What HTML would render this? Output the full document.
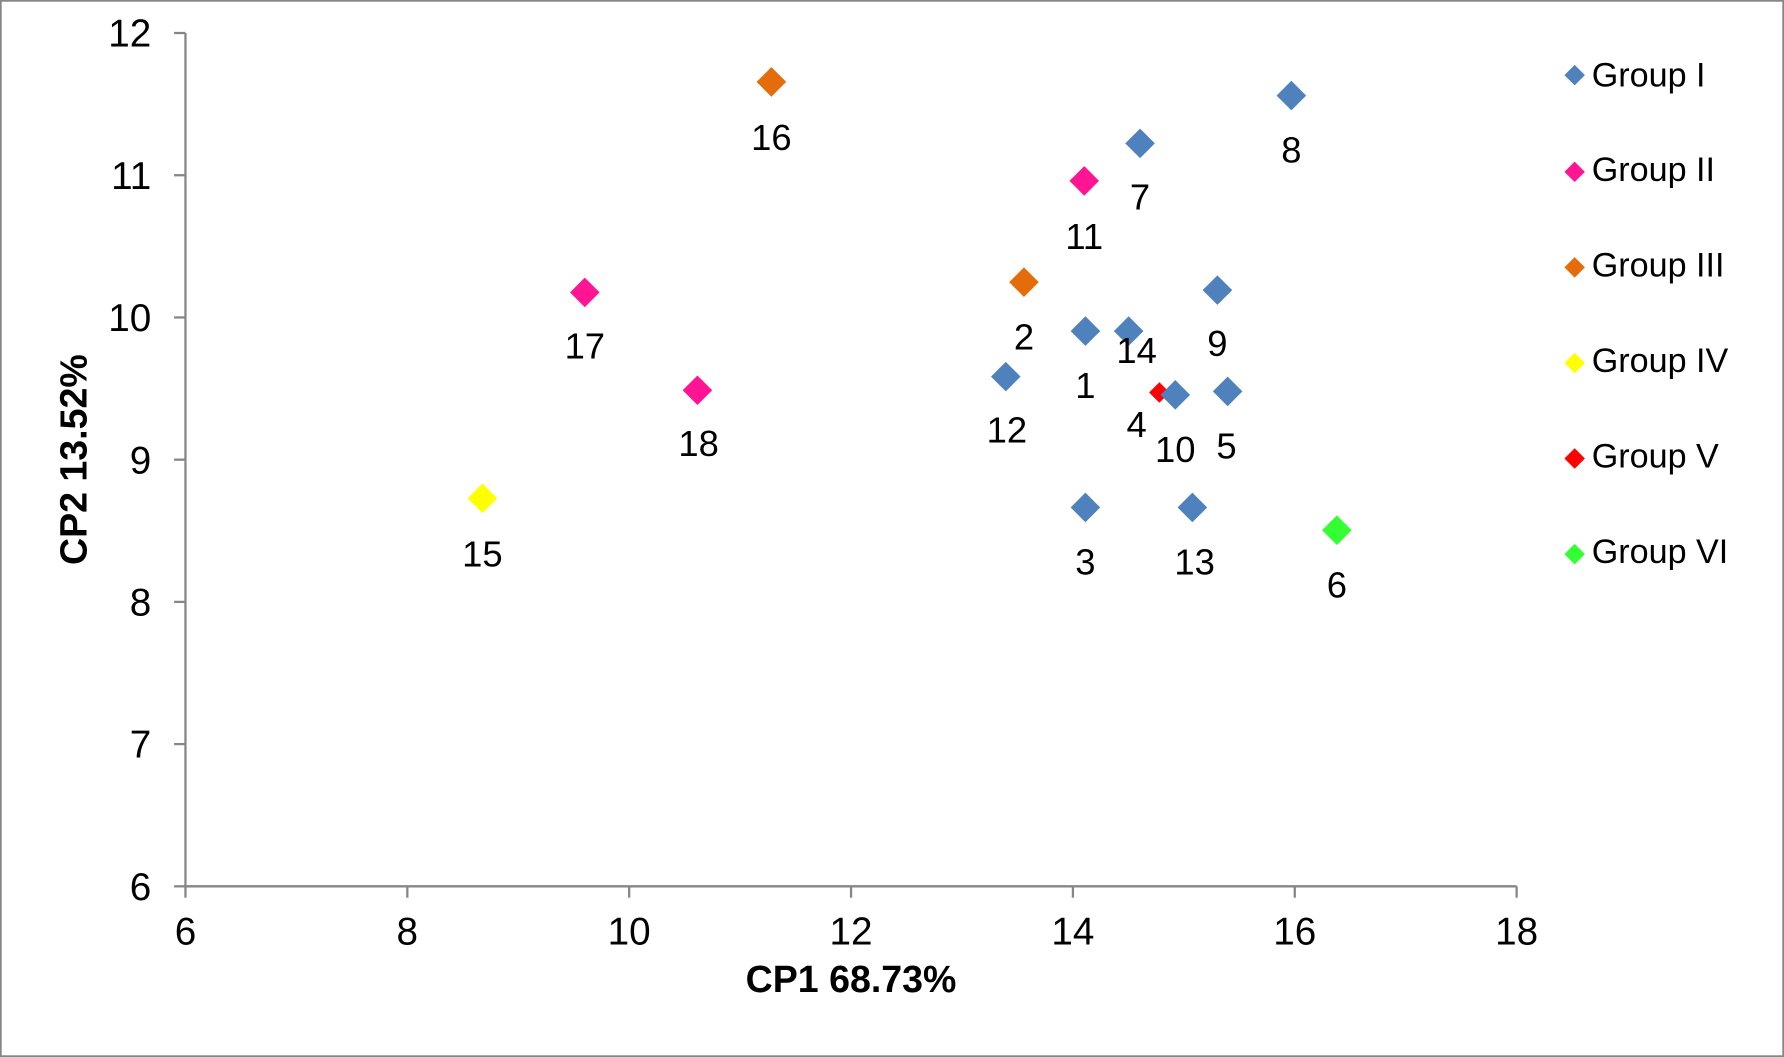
<!DOCTYPE html>
<html><head><meta charset="utf-8"><style>
html,body{margin:0;padding:0;background:#fff;}
svg{display:block;}
text{font-family:"Liberation Sans",Arial,sans-serif;fill:#000;}
</style></head><body>
<svg width="1784" height="1057" viewBox="0 0 1568 929" xmlns="http://www.w3.org/2000/svg">
<rect x="0.75" y="0.75" width="1566.5" height="927.5" fill="#fff" stroke="#868686" stroke-width="1.5"/>
<g stroke="#868686" stroke-width="2" fill="none">
<line x1="163" y1="29" x2="163" y2="780"/>
<line x1="162" y1="779" x2="1333" y2="779"/>
<line x1="153" y1="29" x2="163" y2="29"/>
<line x1="153" y1="154" x2="163" y2="154"/>
<line x1="153" y1="279" x2="163" y2="279"/>
<line x1="153" y1="404" x2="163" y2="404"/>
<line x1="153" y1="529" x2="163" y2="529"/>
<line x1="153" y1="654" x2="163" y2="654"/>
<line x1="153" y1="779" x2="163" y2="779"/>
<line x1="163" y1="779" x2="163" y2="789"/>
<line x1="358" y1="779" x2="358" y2="789"/>
<line x1="553" y1="779" x2="553" y2="789"/>
<line x1="748" y1="779" x2="748" y2="789"/>
<line x1="943" y1="779" x2="943" y2="789"/>
<line x1="1138" y1="779" x2="1138" y2="789"/>
<line x1="1333" y1="779" x2="1333" y2="789"/>
</g>
<g font-size="34" text-anchor="end">
<text x="133" y="41">12</text><text x="133" y="166">11</text><text x="133" y="291">10</text>
<text x="133" y="416">9</text><text x="133" y="541">8</text><text x="133" y="666">7</text><text x="133" y="791">6</text>
</g>
<g font-size="34" text-anchor="middle">
<text x="163" y="830">6</text><text x="358" y="830">8</text><text x="553" y="830">10</text>
<text x="748" y="830">12</text><text x="943" y="830">14</text><text x="1138" y="830">16</text><text x="1333" y="830">18</text>
</g>
<text x="748" y="872" font-size="33" font-weight="bold" text-anchor="middle">CP1 68.73%</text>
<text transform="translate(76,404) rotate(-90)" font-size="33" font-weight="bold" text-anchor="middle">CP2 13.52%</text>
<defs>
<path id="d" d="M0,-13 L13,0 L0,13 L-13,0Z"/>
<path id="s" d="M0,-9 L9,0 L0,9 L-9,0Z"/>
</defs>
<g>
<use href="#d" x="678" y="72" fill="#E46C0A"/>
<use href="#d" x="900" y="248" fill="#E46C0A"/>
<use href="#d" x="1135" y="84" fill="#4F81BD"/>
<use href="#d" x="1002" y="126" fill="#4F81BD"/>
<use href="#d" x="1070" y="255" fill="#4F81BD"/>
<use href="#d" x="954" y="291" fill="#4F81BD"/>
<use href="#d" x="992" y="291" fill="#4F81BD"/>
<use href="#d" x="884" y="331" fill="#4F81BD"/>
<use href="#s" x="1019" y="345" fill="#FF0000"/>
<use href="#d" x="1033" y="347" fill="#4F81BD"/>
<use href="#d" x="1079" y="344" fill="#4F81BD"/>
<use href="#d" x="954" y="446" fill="#4F81BD"/>
<use href="#d" x="1048" y="446" fill="#4F81BD"/>
<use href="#d" x="953" y="159" fill="#FF1493"/>
<use href="#d" x="514" y="257" fill="#FF1493"/>
<use href="#d" x="613" y="343" fill="#FF1493"/>
<use href="#d" x="424" y="438" fill="#FFFF00"/>
<use href="#d" x="1175" y="466" fill="#33FF33"/>
</g>
<g font-size="32" text-anchor="middle">
<text x="678" y="132">16</text><text x="1135" y="143">8</text><text x="1002" y="184">7</text>
<text x="953" y="219">11</text><text x="514" y="315">17</text><text x="900" y="307">2</text>
<text x="1070" y="313">9</text><text x="954" y="350">1</text><text x="999" y="319">14</text>
<text x="885" y="389">12</text><text x="614" y="401">18</text><text x="999" y="384">4</text>
<text x="1033" y="406">10</text><text x="1078" y="403">5</text><text x="424" y="498">15</text>
<text x="954" y="505">3</text><text x="1050" y="505">13</text><text x="1175" y="525">6</text>
</g>
<g font-size="30">
<use href="#s" x="1384" y="66" fill="#4F81BD"/><text x="1399" y="76">Group I</text>
<use href="#s" x="1384" y="151" fill="#FF1493"/><text x="1399" y="159">Group II</text>
<use href="#s" x="1384" y="235" fill="#E46C0A"/><text x="1399" y="243">Group III</text>
<use href="#s" x="1384" y="319" fill="#FFFF00"/><text x="1399" y="327">Group IV</text>
<use href="#s" x="1384" y="403" fill="#FF0000"/><text x="1399" y="411">Group V</text>
<use href="#s" x="1384" y="487" fill="#33FF33"/><text x="1399" y="495">Group VI</text>
</g>
</svg>
</body></html>
